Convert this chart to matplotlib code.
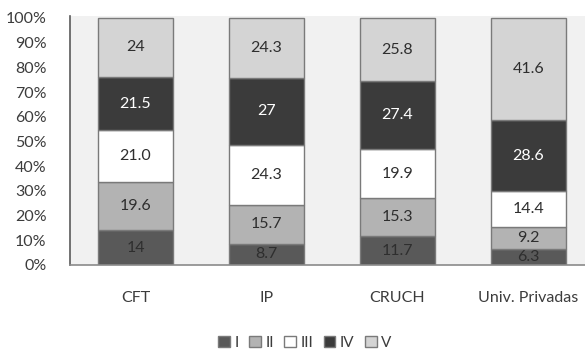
import matplotlib
matplotlib.use("Agg")
import matplotlib.pyplot as plt
import numpy as np

categories = ["CFT", "IP", "CRUCH", "Univ. Privadas"]
series_names = ["I", "II", "III", "IV", "V"]
labels_I = ["14", "8.7", "11.7", "6.3"]
labels_II = ["19.6", "15.7", "15.3", "9.2"]
labels_III = ["21.0", "24.3", "19.9", "14.4"]
labels_IV = ["21.5", "27", "27.4", "28.6"]
labels_V = ["24", "24.3", "25.8", "41.6"]
y_ticks = [0, 10, 20, 30, 40, 50, 60, 70, 80, 90, 100]

series_labels = [labels_I, labels_II, labels_III, labels_IV, labels_V]
fill_colors = ["#595959", "#b3b3b3", "#ffffff", "#3b3b3b", "#d4d4d4"]
text_colors = ["#2e2e2e", "#2e2e2e", "#2e2e2e", "#ffffff", "#2e2e2e"]

plt.rcParams["font.family"] = ["Lato", "DejaVu Sans"]

W, H = 585, 353
fig = plt.figure(figsize=(W / 100, H / 100), dpi=100)
ax_left, ax_right = 70, 594
ax_top, ax_bottom = 16, 265
ax = fig.add_axes([ax_left / W, 1 - ax_bottom / H,
                   (ax_right - ax_left) / W, (ax_bottom - ax_top) / H])
ax.set_facecolor("#f1f1f1")

x = np.arange(len(categories))
bottom = np.zeros(len(categories))
handles = []
for name, labs, fc, tc in zip(series_names, series_labels, fill_colors, text_colors):
    vals = np.array([float(v) for v in labs])
    bars = ax.bar(x, vals, 0.575, bottom=bottom, color=fc, edgecolor="#7a7a7a",
                  linewidth=1.0, label=name, zorder=2)
    handles.append(bars)
    for xi, b, v, s in zip(x, bottom, vals, labs):
        ax.text(xi, b + v / 2, s, ha="center", va="center", fontsize=11.5,
                color=tc, zorder=3)
    bottom += vals

ax.set_xlim(-0.5, 3.5)
ax.set_ylim(0, 100.8)
ax.set_yticks(y_ticks)
ax.set_yticklabels([f"{t}%" for t in y_ticks], fontsize=11.5, color="#3c3c3c")
ax.set_xticks(x)
ax.set_xticklabels(categories, fontsize=11.5, color="#3c3c3c")
ax.tick_params(axis="both", length=0)
ax.tick_params(axis="y", pad=17)
ax.tick_params(axis="x", pad=19)
for side in ["top", "right"]:
    ax.spines[side].set_visible(False)
ax.spines["left"].set_color("#5a5a5a")
ax.spines["left"].set_linewidth(1.2)
ax.spines["bottom"].set_color("#8a8a8a")
ax.spines["bottom"].set_linewidth(1.2)

leg = fig.legend(handles=handles, labels=series_names, loc="center",
                 bbox_to_anchor=(305 / W, 1 - 343 / H), ncol=5, frameon=False,
                 fontsize=11, handlelength=0.75, handleheight=0.75,
                 handletextpad=0.3, columnspacing=0.7, labelcolor="#3c3c3c")

fig.savefig("out.png", dpi=100)
